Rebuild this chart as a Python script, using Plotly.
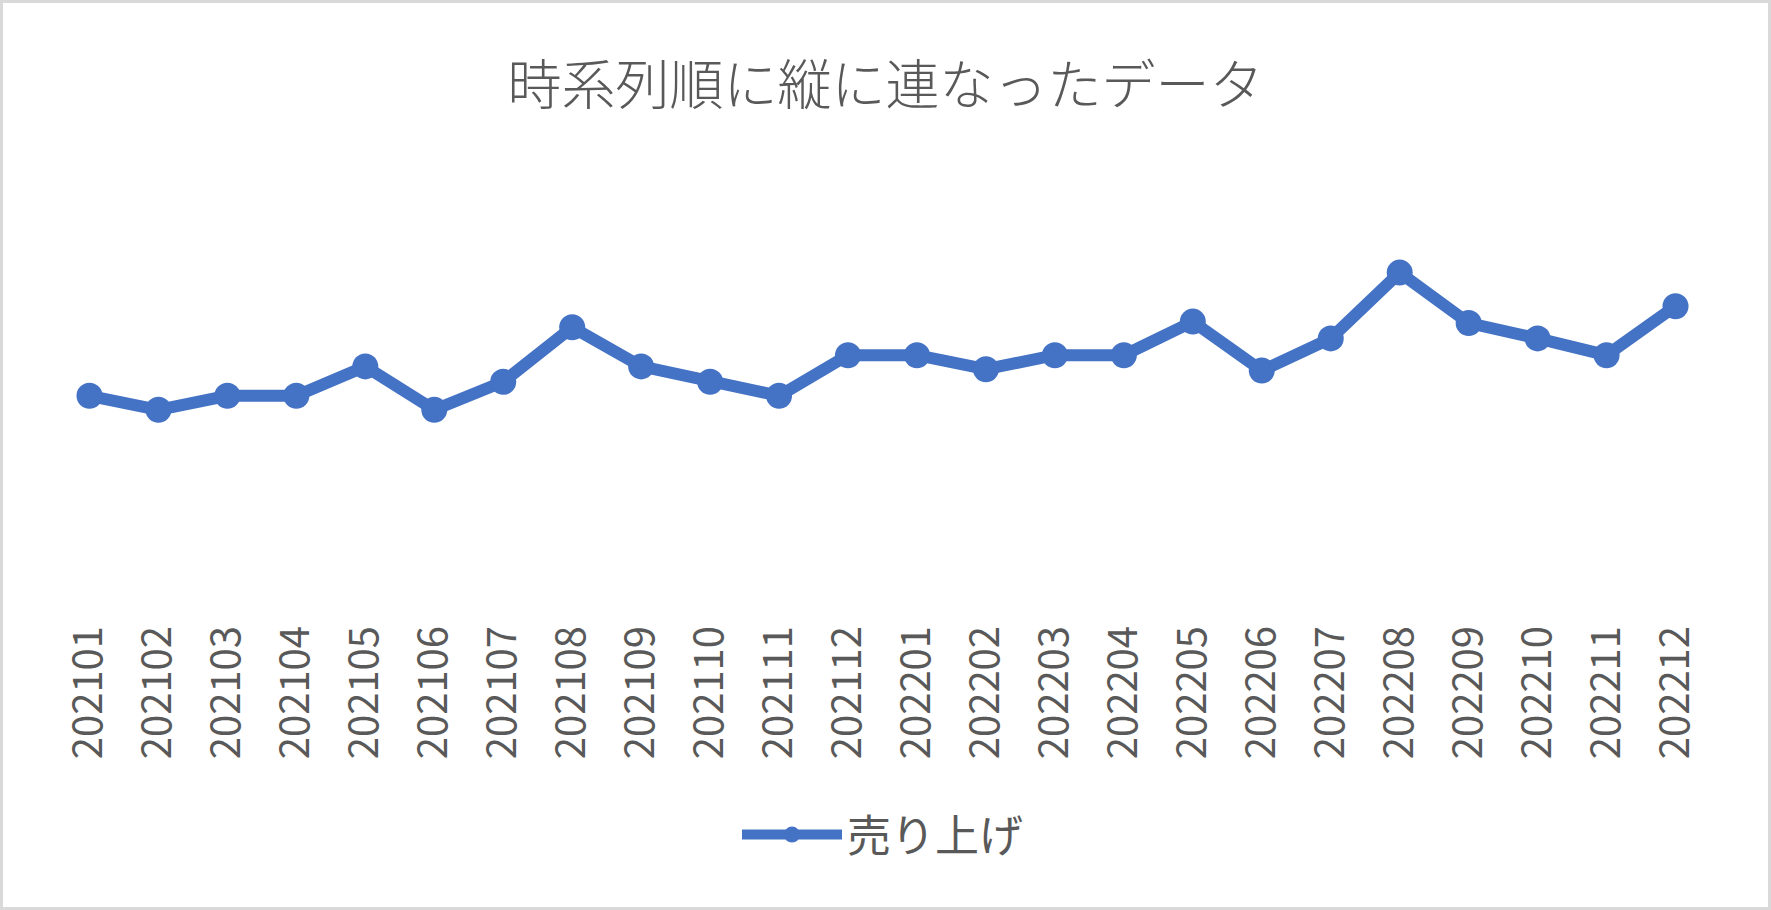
"""
時系列順に縦に連なったデータ - line chart of monthly sales
"""

import plotly.graph_objects as go

# months (category axis) and sales values
months = [
    '202101', '202102', '202103', '202104', '202105', '202106',
    '202107', '202108', '202109', '202110', '202111', '202112',
    '202201', '202202', '202203', '202204', '202205', '202206',
    '202207', '202208', '202209', '202210', '202211', '202212',
]
sales = [
    158, 148, 158, 158, 179, 148,
    168, 207, 179, 168, 158, 187,
    187, 177, 187, 187, 211, 176,
    199, 246, 210, 199, 187, 222,
]
y_range = [0, 350]

W, H = 1771, 910
M_L, M_R, M_T, M_B = 55, 61, 127, 293
TEXT = '#595959'
BLUE = '#4472C4'
FONT = 'Noto Sans CJK JP'

fig = go.Figure()
fig.add_trace(go.Scatter(
    x=months,
    y=sales,
    name='売り上げ',
    mode='lines+markers',
    line=dict(color=BLUE, width=12),
    marker=dict(color=BLUE, size=26),
    hoverinfo='x+y',
))

# light grey frame round the chart, computed from the margins
pw = W - M_L - M_R
ph = H - M_T - M_B
fig.add_shape(
    type='rect', xref='paper', yref='paper',
    x0=(-M_L + 1.5) / pw, x1=1 + (M_R - 1.5) / pw,
    y0=(-M_B + 1.5) / ph, y1=1 + (M_T - 1.5) / ph,
    line=dict(color='#D9D9D9', width=3),
    fillcolor='rgba(0,0,0,0)',
    layer='below',
)

fig.update_layout(
    width=W,
    height=H,
    margin=dict(l=M_L, r=M_R, t=M_T, b=M_B, pad=0),
    paper_bgcolor='white',
    plot_bgcolor='white',
    font=dict(family=FONT, color=TEXT, size=40),
    title=dict(
        text='時系列順に縦に連なったデータ',
        x=0.5, xref='container', xanchor='center',
        y=1 - 86 / H, yref='container', yanchor='middle',
        font=dict(family=FONT, size=54, color=TEXT, weight=300),
    ),
    xaxis=dict(
        type='category',
        range=[-0.5, len(months) - 0.5],
        tickangle=-90,
        ticks='',
        ticklabelstandoff=0,
        showgrid=False,
        showline=False,
        zeroline=False,
        tickfont=dict(family=FONT, size=40, color=TEXT),
    ),
    yaxis=dict(
        range=y_range,
        visible=False,
        showgrid=False,
        zeroline=False,
    ),
    showlegend=True,
    legend=dict(
        orientation='h',
        x=0.5, xanchor='center',
        y=1 - 835 / H, yref='container', yanchor='middle',
        itemwidth=100,
        font=dict(family=FONT, size=44, color=TEXT),
        bgcolor='rgba(0,0,0,0)',
    ),
)

# drop the page's default body margin so the chart sits at the window corner
fig.write_html(
    'out.html',
    config={'displayModeBar': False},
    post_script="document.body.style.margin='0';",
)
print("✓ Created: out.html")
